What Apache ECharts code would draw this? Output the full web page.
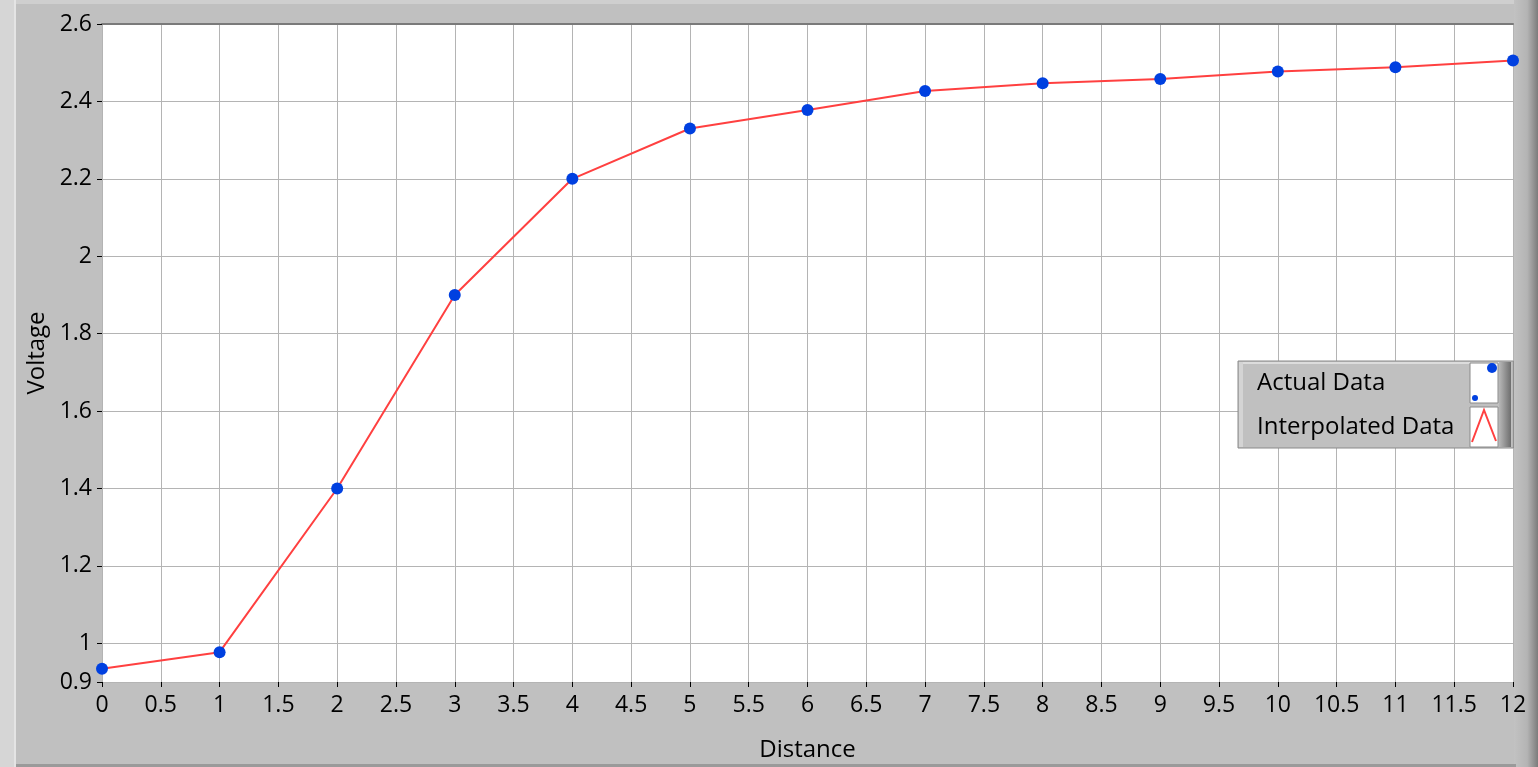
<!DOCTYPE html>
<html>
<head>
<meta charset="utf-8">
<script src="https://cdn.jsdelivr.net/npm/echarts@6/dist/echarts.min.js"></script>
<style>
  html, body { margin: 0; padding: 0; background: #c0c0c0; }
  #chart { width: 1538px; height: 767px; }
</style>
</head>
<body>
<div id="chart"></div>
<script>
// 距离 / 电压 数据
var distance = [0, 1, 2, 3, 4, 5, 6, 7, 8, 9, 10, 11, 12]
var voltage = [0.934, 0.977, 1.4, 1.9, 2.2, 2.33, 2.378, 2.427, 2.447, 2.458, 2.477, 2.488, 2.506]
var yTicks = [0.9, 1, 1.2, 1.4, 1.6, 1.8, 2, 2.2, 2.4, 2.6]

var points = distance.map(function (d, i) { return [d, voltage[i]] })

var myChart = echarts.init(document.getElementById('chart'))
var font = 'Open Sans, Noto Sans, sans-serif'
var hidden = { opacity: 0 }

myChart.setOption({
  backgroundColor: '#c0c0c0',
  animation: false,
  grid: {
    left: 102, top: 24, right: 25, bottom: 84,
    show: true, backgroundColor: '#ffffff', borderWidth: 0
  },
  legend: {
    data: [
      { name: 'Actual Data', itemStyle: hidden },
      { name: 'Interpolated Data', itemStyle: hidden }
    ],
    orient: 'vertical',
    left: 1238, top: 361,
    align: 'left',
    itemGap: 4,
    itemWidth: 1, itemHeight: 40,
    padding: [2, 59, 1, 13],
    backgroundColor: '#c0c0c0',
    borderColor: '#8a8a8a', borderWidth: 1,
    icon: 'rect',
    textStyle: { fontFamily: font, fontSize: 24, color: '#000' },
    selectedMode: false
  },
  xAxis: [
    {
      type: 'value', min: 0, max: 12, interval: 0.5,
      name: 'Distance', nameLocation: 'middle', nameGap: 56,
      nameTextStyle: { fontFamily: font, fontSize: 24, color: '#000' },
      axisLine: { show: false },
      axisTick: { show: true, length: 5, lineStyle: { color: '#000' } },
      axisLabel: { fontFamily: font, fontSize: 23, color: '#000', margin: 12, showMaxLabel: true, showMinLabel: true },
      splitLine: { show: true, lineStyle: { color: '#b4b4b4', width: 1 } }
    },
    {
      type: 'value', min: 0, max: 12, position: 'top',
      axisLine: { show: true, lineStyle: { color: '#7a7a7a', width: 2 } },
      axisTick: { show: false }, axisLabel: { show: false }, splitLine: { show: false }
    }
  ],
  yAxis: {
    type: 'value', min: 0.9, max: 2.6,
    name: 'Voltage', nameLocation: 'middle', nameGap: 53,
    nameTextStyle: { fontFamily: font, fontSize: 24, color: '#000' },
    axisLine: { show: false },
    axisTick: { show: true, length: 5, lineStyle: { color: '#000' }, customValues: yTicks },
    axisLabel: {
      fontFamily: font, fontSize: 23, color: '#000', margin: 10, customValues: yTicks,
      formatter: function (v) { return String(Math.round(v * 10) / 10) }
    },
    splitLine: { show: true, lineStyle: { color: '#b4b4b4', width: 1 } }
  },
  series: [
    {
      name: 'Interpolated Data',
      type: 'line',
      data: points,
      showSymbol: false,
      color: '#ff4040',
      lineStyle: { color: '#ff4040', width: 2 },
      z: 2
    },
    {
      name: 'Actual Data',
      type: 'scatter',
      data: points,
      symbol: 'circle',
      symbolSize: 12,
      color: '#0040e0',
      itemStyle: { color: '#0040e0', opacity: 1 },
      clip: false,
      z: 3
    }
  ],
  graphic: [
    // 左侧窄条
    { type: 'rect', shape: { x: 0, y: 0, width: 16, height: 767 }, style: { fill: '#d6d6d6' }, silent: true },
    { type: 'rect', shape: { x: 14, y: 0, width: 2, height: 767 }, style: { fill: '#e4e4e4' }, silent: true },
    // 顶部浅色条
    { type: 'rect', shape: { x: 16, y: 0, width: 1500, height: 4 }, style: { fill: '#cfcfcf' }, silent: true },
    // 右侧边框
    { type: 'rect', shape: { x: 1514, y: 0, width: 24, height: 767 },
      style: { fill: new echarts.graphic.LinearGradient(0, 0, 1, 0, [
        { offset: 0, color: '#c2c2c2' }, { offset: 0.55, color: '#b4b4b4' }, { offset: 1, color: '#7c7c7c' }]) }, silent: true },
    // 底部线
    { type: 'rect', shape: { x: 16, y: 764, width: 1500, height: 3 }, style: { fill: '#9a9a9a' }, silent: true },
    // 图例右侧阴影和左上高光
    { type: 'rect', shape: { x: 1499, y: 362, width: 12, height: 85 },
      style: { fill: new echarts.graphic.LinearGradient(0, 0, 1, 0, [
        { offset: 0, color: '#b8b8b8' }, { offset: 1, color: '#6e6e6e' }]) }, silent: true, z: 199 },
    { type: 'rect', shape: { x: 1239, y: 362, width: 260, height: 2 }, style: { fill: '#dcdcdc' }, silent: true, z: 199 },
    { type: 'rect', shape: { x: 1239, y: 362, width: 4, height: 85 }, style: { fill: '#d4d4d4' }, silent: true, z: 199 },
    // 图例图标装饰
    { type: 'rect', shape: { x: 1470, y: 363, width: 28, height: 40 }, style: { fill: '#fff', stroke: '#8a8a8a', lineWidth: 1 }, silent: true, z: 200 },
    { type: 'circle', shape: { cx: 1492, cy: 368, r: 5 }, style: { fill: '#0040e0' }, silent: true, z: 201 },
    { type: 'circle', shape: { cx: 1475, cy: 398, r: 3 }, style: { fill: '#0040e0' }, silent: true, z: 201 },
    { type: 'rect', shape: { x: 1470, y: 407, width: 28, height: 40 }, style: { fill: '#fff', stroke: '#8a8a8a', lineWidth: 1 }, silent: true, z: 200 },
    { type: 'polyline', shape: { points: [[1472, 442], [1484, 410], [1496, 441]] }, style: { stroke: '#ff4040', lineWidth: 2, fill: null }, silent: true, z: 201 }
  ]
})
</script>
</body>
</html>
